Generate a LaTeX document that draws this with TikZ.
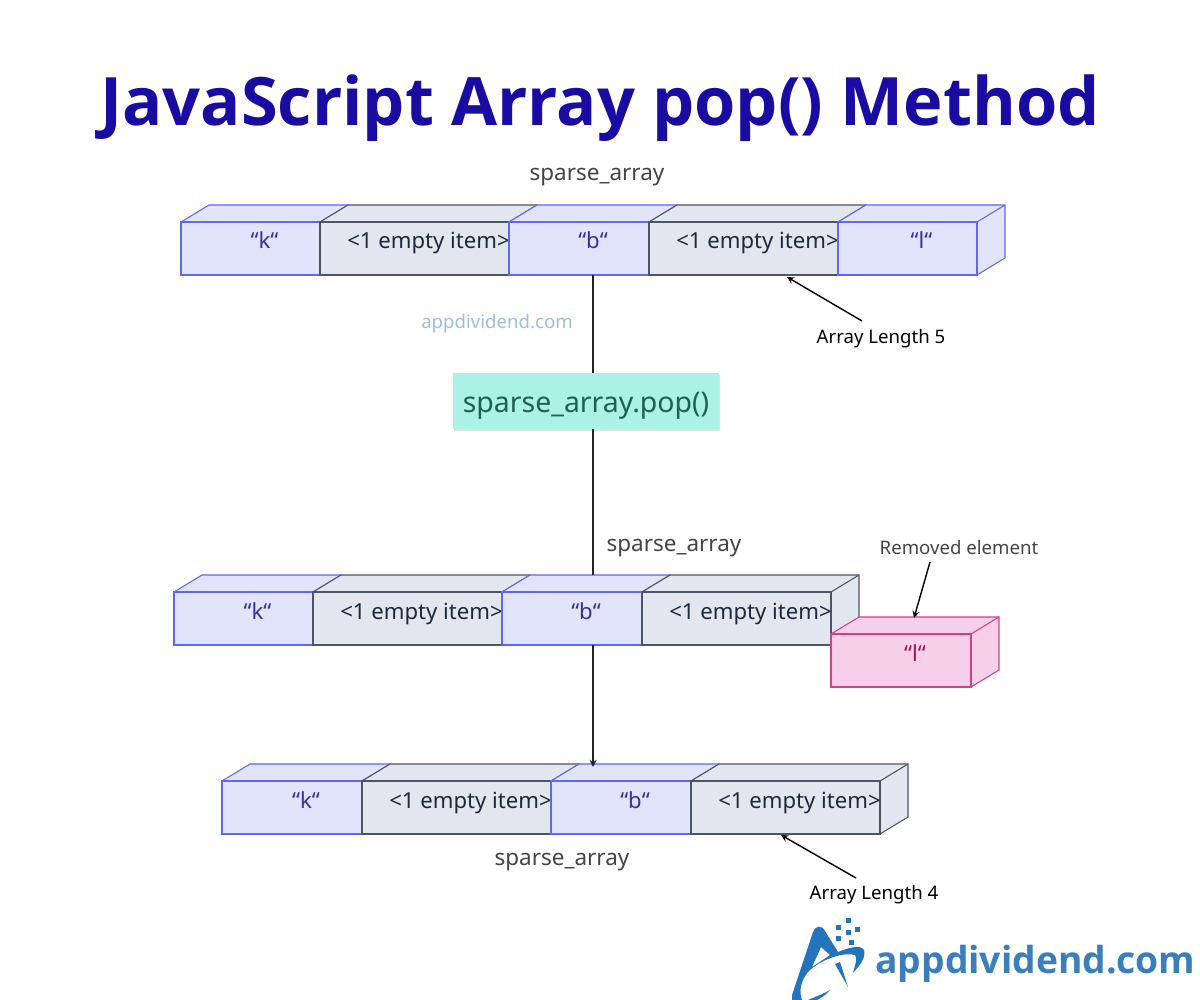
\documentclass[tikz,border=0pt]{standalone}
\usepackage{fontspec}
\setmainfont{Noto Sans}
\newfontfamily\heavyfont{Open Sans}
\usetikzlibrary{shadows}

\definecolor{titleblue}{HTML}{1A0BA3}
\definecolor{labelgray}{HTML}{444444}
\definecolor{logoblue}{HTML}{2473BD}
\definecolor{brandblue}{HTML}{3A7EBC}
\definecolor{popgreen}{HTML}{AAF3E4}
\definecolor{poptext}{HTML}{1F5F55}
\definecolor{cellgray}{HTML}{E2E7EF}
\definecolor{cellgrayline}{HTML}{4B5563}
\definecolor{graytext}{HTML}{1E293B}
\definecolor{cellpink}{HTML}{F5D0E8}
\definecolor{cellpinkline}{HTML}{D63F85}
\definecolor{pinktext}{HTML}{9D174D}
\definecolor{cellblue}{HTML}{E0E5FB}
\definecolor{cellblueline}{HTML}{6366F1}
\definecolor{bluetext}{HTML}{3730A3}

\tikzset{
    bluecell/.style={draw=cellblueline, fill=cellblue, line width=0.6pt},
    graycell/.style={draw=cellgrayline, fill=cellgray, line width=0.6pt},
    pinkcell/.style={draw=cellpinkline, fill=cellpink, line width=0.6pt},
    cellface/.style={inner sep=0pt, outer sep=0pt, anchor=north west, minimum height=53 * 0.02cm},
    celltext/.style={anchor=base, font=\fontsize{12.6}{14}\selectfont, inner sep=0pt},
    arrayname/.style={font=\fontsize{12.8}{14}\selectfont, text=labelgray},
    note/.style={font=\fontsize{10.6}{12}\selectfont},
}

% one cell of an array: style, name, left, top of the front face, width, text colour, text
\newcommand{\arraycell}[7]{
    \draw[#1] (#3, #4) -- ++(28, -17) -- ++(#5, 0) -- ++(0, 53) -- ++(-28, 17) -- ++(-#5, 0) -- cycle;
    \draw[#1] (#3 + #5, #4) -- ++(28, -17);
    \node[#1, cellface, minimum width=#5 * 0.02cm] at (#3, #4) (#2) {};
    \node[celltext, text=#6] at (#3 + #5 / 2 + 14, #4 + 27) (#2t) {#7};
}

\begin{document}
\begin{tikzpicture}[x=0.02cm, y=-0.02cm, >=stealth]
    \useasboundingbox (0, 0) rectangle (1200, 1000);

    \node[font=\heavyfont\fontsize{38}{48}\bfseries\selectfont, text=titleblue] at (600, 108) (title) {JavaScript Array pop() Method};

    % first array
    \node[arrayname] at (597, 177) (name1) {sparse\_array};
    \arraycell{bluecell}{k1}{181}{222}{139}{bluetext}{“k“}
    \arraycell{graycell}{e1}{320}{222}{189}{graytext}{<1 empty item>}
    \arraycell{bluecell}{b1}{509}{222}{140}{bluetext}{“b“}
    \arraycell{graycell}{f1}{649}{222}{189}{graytext}{<1 empty item>}
    \arraycell{bluecell}{l1}{838}{222}{139}{bluetext}{“l“}
    \node[note] at (881, 339) (len1) {Array Length 5};
    \coordinate (len1a) at (862, 321);
    \coordinate (len1b) at (787, 277);
    \draw[->, thick] (len1a) -- (len1b);

    \node[font=\fontsize{10.6}{12}\selectfont, text=brandblue!50!white] at (497, 324) (mark) {appdividend.com};

    % pop call
    \node[inner sep=0pt, minimum width=266 * 0.02cm, minimum height=56 * 0.02cm, fill=popgreen, text=poptext,
        general shadow={fill=black!12, shadow xshift=0.5pt, shadow yshift=-1pt},
        text height=16pt, text depth=2.4pt,
        font=\fontsize{16.2}{18}\selectfont] at (586, 401) (pop) {sparse\_array.pop()};

    % second array
    \node[arrayname] at (674, 548) (name2) {sparse\_array};
    \arraycell{bluecell}{k2}{174}{592}{139}{bluetext}{“k“}
    \arraycell{graycell}{e2}{313}{592}{189}{graytext}{<1 empty item>}
    \arraycell{bluecell}{b2}{502}{592}{140}{bluetext}{“b“}
    \arraycell{graycell}{f2}{642}{592}{189}{graytext}{<1 empty item>}
    \arraycell{pinkcell}{l2}{831}{634}{140}{pinktext}{“l“}
    \node[note, text=labelgray] at (959, 548) (removed) {Removed element};
    \coordinate (removeda) at (930, 562);
    \coordinate (removedb) at (914, 618);
    \draw[->, thick] (removeda) -- (removedb);

    % third array
    \arraycell{bluecell}{k3}{222}{781}{140}{bluetext}{“k“}
    \arraycell{graycell}{e3}{362}{781}{189}{graytext}{<1 empty item>}
    \arraycell{bluecell}{b3}{551}{781}{140}{bluetext}{“b“}
    \arraycell{graycell}{f3}{691}{781}{189}{graytext}{<1 empty item>}
    \node[arrayname] at (562, 862) (name3) {sparse\_array};
    \node[note] at (874, 895) (len2) {Array Length 4};
    \coordinate (len2a) at (856, 878);
    \coordinate (len2b) at (781, 835);
    \draw[->, thick] (len2a) -- (len2b);

    % stem between the arrays
    \coordinate (stem) at (593, 767);
    \coordinate (top2) at (593, 575);
    \draw[thick, labelgray!50!black] (stem |- b1.south) -- (stem |- pop.north);
    \draw[thick, labelgray!50!black] (stem |- pop.south) -- (top2);
    \draw[->, thick, labelgray!50!black] (stem |- b2.south) -- (stem);

    % logo
    \fill[logoblue, even odd rule] (792, 1000) -- (792, 995) -- (813, 932) .. controls (816, 925) and (822, 925) .. (825, 931) -- (838, 952)
        .. controls (848, 948) and (860, 944) .. (864, 950) .. controls (866, 958) and (860, 965) .. (853, 973)
        .. controls (855, 965) and (858, 958) .. (855, 955) .. controls (845, 952) and (822, 958) .. (808, 972)
        .. controls (800, 982) and (799, 992) .. (802, 1000) -- cycle
        (821, 947) -- (812, 967) -- (830, 955) -- cycle;
    \fill[logoblue] (808, 1000) .. controls (815, 997) and (823, 994) .. (830, 990) .. controls (826, 995) and (821, 998) .. (817, 1000) -- cycle;
    \fill[logoblue] (835, 964) -- (840, 962) -- (848, 987) -- cycle;
    \foreach \sqx/\sqy in {848/920, 838/927, 857/929, 848/932, 838/938, 851/942} {
        \fill[logoblue] (\sqx - 2.5, \sqy - 2.5) rectangle (\sqx + 2.5, \sqy + 2.5);
    }
    \node[font=\heavyfont\fontsize{21.2}{24}\bfseries\selectfont, text=brandblue, anchor=west, inner sep=0pt] at (875, 964) (brand) {appdividend.com};
\end{tikzpicture}
\end{document}
